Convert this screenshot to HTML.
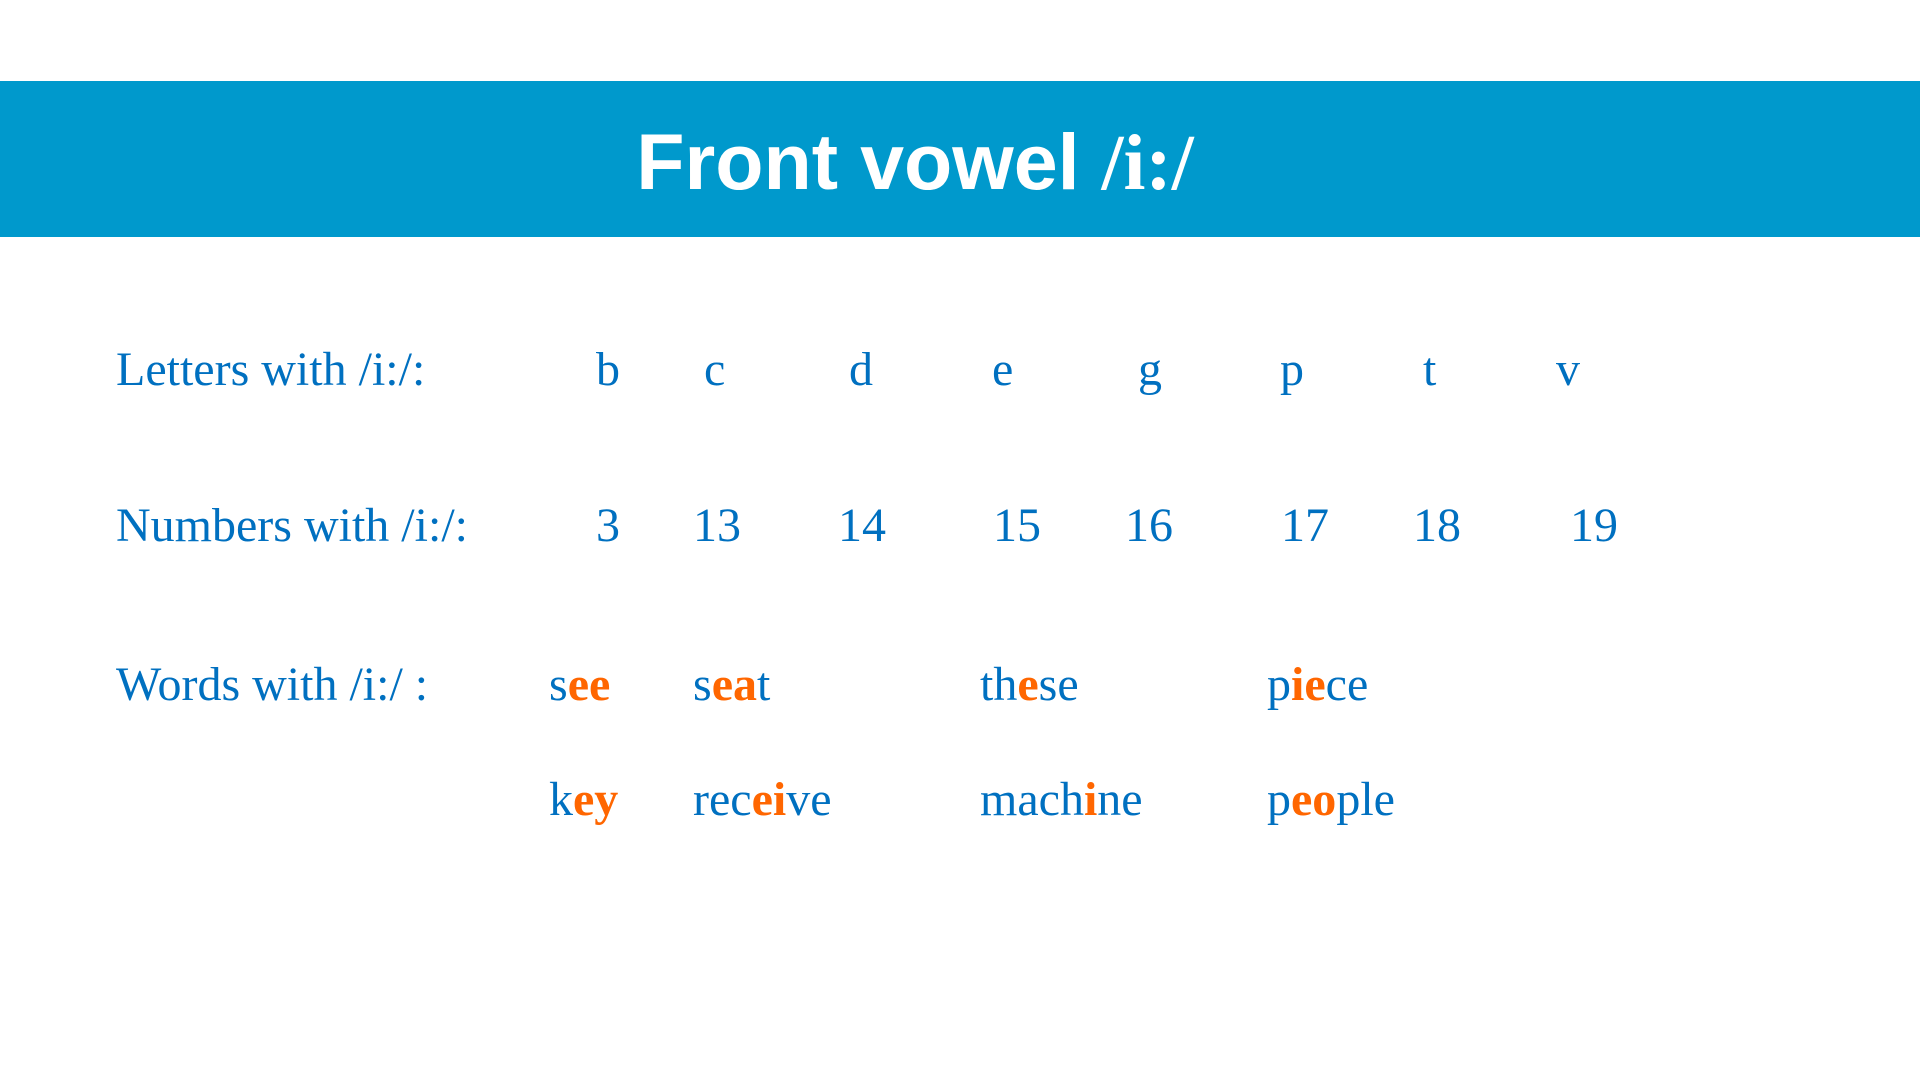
<!DOCTYPE html>
<html><head><meta charset="utf-8"><style>
body{margin:0;width:1920px;height:1080px;background:#fff;position:relative;overflow:hidden;font-family:"Liberation Serif",serif;color:#0070C0}
.ban{position:absolute;left:0;top:81px;width:1920px;height:156px;background:#0099CC}
.title{position:absolute;left:0;width:1830px;text-align:center;top:112px;font:bold 79px "Liberation Sans",sans-serif;color:#fff;line-height:100px}
.title span{font-family:"Liberation Serif",serif}
.t{position:absolute;font-size:48px;line-height:48px;white-space:nowrap}
.o{color:#FF6600;font-weight:bold}
</style></head><body>
<div class="ban"></div>
<div class="title">Front vowel <span>/i:/</span></div>
<div class="t" style="left:116px;top:346px">Letters with /i:/:</div>
<div class="t" style="left:596px;top:346px">b</div>
<div class="t" style="left:704px;top:346px">c</div>
<div class="t" style="left:849px;top:346px">d</div>
<div class="t" style="left:992px;top:346px">e</div>
<div class="t" style="left:1138px;top:346px">g</div>
<div class="t" style="left:1280px;top:346px">p</div>
<div class="t" style="left:1423px;top:346px">t</div>
<div class="t" style="left:1556px;top:346px">v</div>
<div class="t" style="left:116px;top:502px">Numbers with /i:/:</div>
<div class="t" style="left:596px;top:502px">3</div>
<div class="t" style="left:693px;top:502px">13</div>
<div class="t" style="left:838px;top:502px">14</div>
<div class="t" style="left:993px;top:502px">15</div>
<div class="t" style="left:1125px;top:502px">16</div>
<div class="t" style="left:1281px;top:502px">17</div>
<div class="t" style="left:1413px;top:502px">18</div>
<div class="t" style="left:1570px;top:502px">19</div>
<div class="t" style="left:116px;top:661px">Words with /i:/ :</div>
<div class="t" style="left:549px;top:661px">s<span class="o">ee</span></div>
<div class="t" style="left:693px;top:661px">s<span class="o">ea</span>t</div>
<div class="t" style="left:980px;top:661px">th<span class="o">e</span>se</div>
<div class="t" style="left:1267px;top:661px">p<span class="o">ie</span>ce</div>
<div class="t" style="left:549px;top:776px">k<span class="o">ey</span></div>
<div class="t" style="left:693px;top:776px">rec<span class="o">ei</span>ve</div>
<div class="t" style="left:980px;top:776px">mach<span class="o">i</span>ne</div>
<div class="t" style="left:1267px;top:776px">p<span class="o">eo</span>ple</div>
</body></html>
